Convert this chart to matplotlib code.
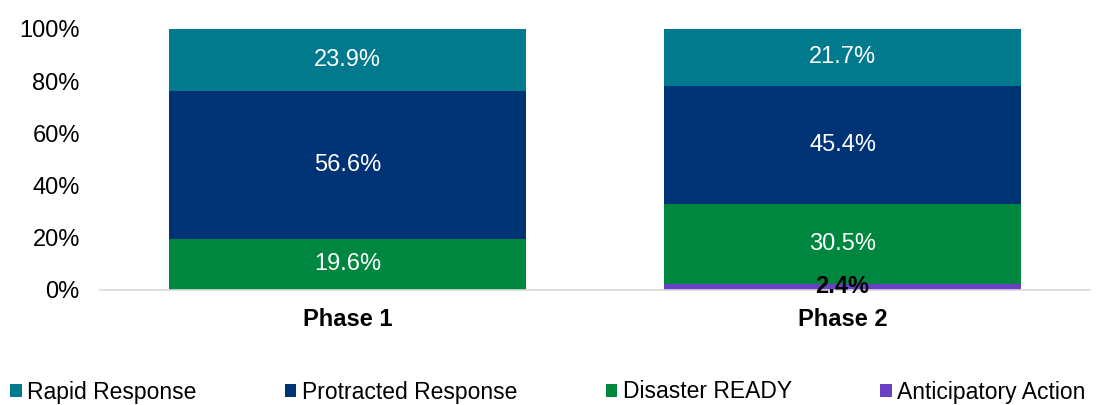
import matplotlib
matplotlib.use("Agg")
import matplotlib.pyplot as plt
import numpy as np

plt.rcParams['font.family'] = ['Liberation Sans', 'DejaVu Sans']

phases = ["Phase 1", "Phase 2"]
series_names = ["Anticipatory Action", "Disaster READY", "Protracted Response", "Rapid Response"]
anticipatory = [0.0, 2.4]
disaster_ready = [19.6, 30.5]
protracted = [56.6, 45.4]
rapid = [23.9, 21.7]
colors = ["#6A41C4", "#00873F", "#003375", "#007A8C"]

values = [anticipatory, disaster_ready, protracted, rapid]

fig = plt.figure(figsize=(10.96, 4.05), dpi=100)
ax = fig.add_axes([100/1096, 1-290/405, 990/1096, 261/405])

x = np.arange(len(phases))
bottom = np.zeros(len(phases))
containers = {}
for name, vals, col in zip(series_names, values, colors):
    v = np.array(vals) / 100.0
    bars = ax.bar(x, v, width=0.72, bottom=bottom, color=col, label=name)
    containers[name] = bars
    for xi, vi, bi in zip(x, v, bottom):
        if vi <= 0:
            continue
        pct = vi * 100
        if name == "Anticipatory Action":
            ax.text(xi, bi + vi / 2, f"{pct:.1f}%", ha="center", va="center",
                    fontsize=17, fontweight="bold", color="black")
        else:
            ax.text(xi, bi + vi / 2, f"{pct:.1f}%", ha="center", va="center",
                    fontsize=17, color="white")
    bottom = bottom + v

ax.set_xlim(-0.5, 1.5)
ax.set_ylim(0, 1.0)
ax.set_yticks(np.arange(0, 1.01, 0.2))
ax.set_yticklabels([f"{int(round(t*100))}%" for t in np.arange(0, 1.01, 0.2)], fontsize=17)
ax.set_xticks(x)
ax.set_xticklabels(phases, fontsize=17, fontweight="bold")
ax.tick_params(axis="both", length=0)
ax.tick_params(axis="y", pad=14.5)
ax.tick_params(axis="x", pad=13)
for s in ["top", "right", "left"]:
    ax.spines[s].set_visible(False)
ax.spines["bottom"].set_color("#D9D9D9")
ax.spines["bottom"].set_linewidth(1.2)

order = ["Rapid Response", "Protracted Response", "Disaster READY", "Anticipatory Action"]
handles = [containers[n] for n in order]
fig.legend(handles, order, loc="center", bbox_to_anchor=(0.5, 1 - 392/405),
           ncol=4, frameon=False, fontsize=16.5, handlelength=0.5, handleheight=0.5,
           handletextpad=0.25, columnspacing=3.85, borderaxespad=0)

fig.savefig("out.png", dpi=100)
